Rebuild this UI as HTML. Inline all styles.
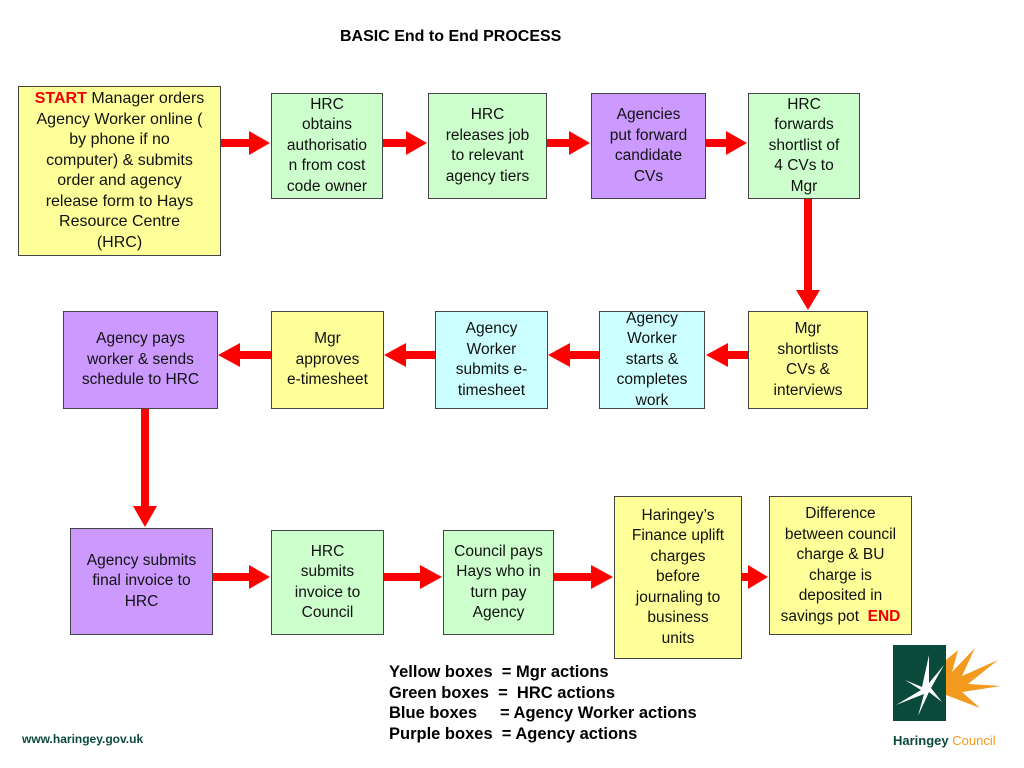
<!DOCTYPE html>
<html><head><style>
body{margin:0;width:1024px;height:768px;background:#fff;position:relative;font-family:"Liberation Sans",Arial,sans-serif;overflow:hidden}
.b{position:absolute;box-sizing:border-box;border:1px solid #444;display:flex;align-items:center;justify-content:center;text-align:center;font-size:15.5px;line-height:20.5px;color:#111}
.y{background:#ffff99}.g{background:#ccffcc}.c{background:#ccffff}.p{background:#cc99ff}
.t{position:absolute;font-weight:bold;font-size:15px}
svg{position:absolute;left:0;top:0}
</style></head><body>
<div class="t" style="left:340px;top:28px;font-size:16px">BASIC End to End PROCESS</div>
<div class="b y" style="left:18px;top:86px;width:203px;height:170px;font-size:16px"><div><span style="color:#e00;font-weight:bold">START</span> Manager orders<br>Agency Worker online (<br>by phone if no<br>computer) &amp; submits<br>order and agency<br>release form to Hays<br>Resource Centre<br>(HRC)</div></div>
<div class="b g" style="left:271px;top:93px;width:112px;height:106px"><div>HRC<br>obtains<br>authorisatio<br>n from cost<br>code owner</div></div>
<div class="b g" style="left:428px;top:93px;width:119px;height:106px"><div>HRC<br>releases job<br>to relevant<br>agency tiers</div></div>
<div class="b p" style="left:591px;top:93px;width:115px;height:106px"><div>Agencies<br>put forward<br>candidate<br>CVs</div></div>
<div class="b g" style="left:748px;top:93px;width:112px;height:106px"><div>HRC<br>forwards<br>shortlist of<br>4 CVs to<br>Mgr</div></div>

<div class="b y" style="left:748px;top:311px;width:120px;height:98px"><div>Mgr<br>shortlists<br>CVs &amp;<br>interviews</div></div>
<div class="b c" style="left:599px;top:311px;width:106px;height:98px"><div>Agency<br>Worker<br>starts &amp;<br>completes<br>work</div></div>
<div class="b c" style="left:435px;top:311px;width:113px;height:98px"><div>Agency<br>Worker<br>submits e-<br>timesheet</div></div>
<div class="b y" style="left:271px;top:311px;width:113px;height:98px"><div>Mgr<br>approves<br>e-timesheet</div></div>
<div class="b p" style="left:63px;top:311px;width:155px;height:98px"><div>Agency pays<br>worker &amp; sends<br>schedule to HRC</div></div>

<div class="b p" style="left:70px;top:528px;width:143px;height:107px"><div>Agency submits<br>final invoice to<br>HRC</div></div>
<div class="b g" style="left:271px;top:530px;width:113px;height:105px"><div>HRC<br>submits<br>invoice to<br>Council</div></div>
<div class="b g" style="left:443px;top:530px;width:111px;height:105px"><div>Council pays<br>Hays who in<br>turn pay<br>Agency</div></div>
<div class="b y" style="left:614px;top:496px;width:128px;height:163px"><div>Haringey’s<br>Finance uplift<br>charges<br>before<br>journaling to<br>business<br>units</div></div>
<div class="b y" style="left:769px;top:496px;width:143px;height:139px"><div>Difference<br>between council<br>charge &amp; BU<br>charge is<br>deposited in<br>savings pot &nbsp;<span style="color:#e00;font-weight:bold">END</span></div></div>

<svg width="1024" height="768">
<g fill="#f00">
<rect x="221" y="139" width="30" height="8"/><polygon points="249,131 270,143 249,155"/>
<rect x="383" y="139" width="25" height="8"/><polygon points="406,131 427,143 406,155"/>
<rect x="547" y="139" width="24" height="8"/><polygon points="569,131 590,143 569,155"/>
<rect x="706" y="139" width="22" height="8"/><polygon points="726,131 747,143 726,155"/>
<rect x="804" y="199" width="8" height="93"/><polygon points="796,290 808,310 820,290"/>
<rect x="727" y="351" width="21" height="8"/><polygon points="728,343 706,355 728,367"/>
<rect x="568" y="351" width="31" height="8"/><polygon points="570,343 548,355 570,367"/>
<rect x="404" y="351" width="31" height="8"/><polygon points="406,343 384,355 406,367"/>
<rect x="238" y="351" width="33" height="8"/><polygon points="240,343 218,355 240,367"/>
<rect x="141" y="409" width="8" height="99"/><polygon points="133,506 145,527 157,506"/>
<rect x="213" y="573" width="38" height="8"/><polygon points="249,565 270,577 249,589"/>
<rect x="384" y="573" width="38" height="8"/><polygon points="420,565 442,577 420,589"/>
<rect x="554" y="573" width="39" height="8"/><polygon points="591,565 613,577 591,589"/>
<rect x="742" y="573" width="8" height="8"/><polygon points="748,565 768,577 748,589"/>
</g>
<rect x="893" y="645" width="53" height="76" fill="#0a4a3a"/>
<g fill="#fff"><polygon points="929,655 922,687 905,680 921,690 896,705 924,694 918,716 929,692 942,702 931,688 944,665 929,683"/></g>
<g fill="#f39a1f"><polygon points="946,660 958,650 952,672 975,648 962,676 998,660 968,684 1001,686 962,692 980,708 946,695"/></g>
</svg>
<div class="t" style="left:389px;top:662px;line-height:20.5px;font-size:16.5px">Yellow boxes &nbsp;= Mgr actions<br>Green boxes &nbsp;= &nbsp;HRC actions<br>Blue boxes &nbsp;&nbsp;&nbsp;&nbsp;= Agency Worker actions<br>Purple boxes &nbsp;= Agency actions</div>
<div class="t" style="left:22px;top:732px;font-size:12px;color:#0a4a3a">www.haringey.gov.uk</div>
<div style="position:absolute;left:893px;top:733px;font-size:13px;font-weight:bold;color:#0a4a3a">Haringey <span style="color:#f39a1f;font-weight:normal">Council</span></div>
</body></html>
